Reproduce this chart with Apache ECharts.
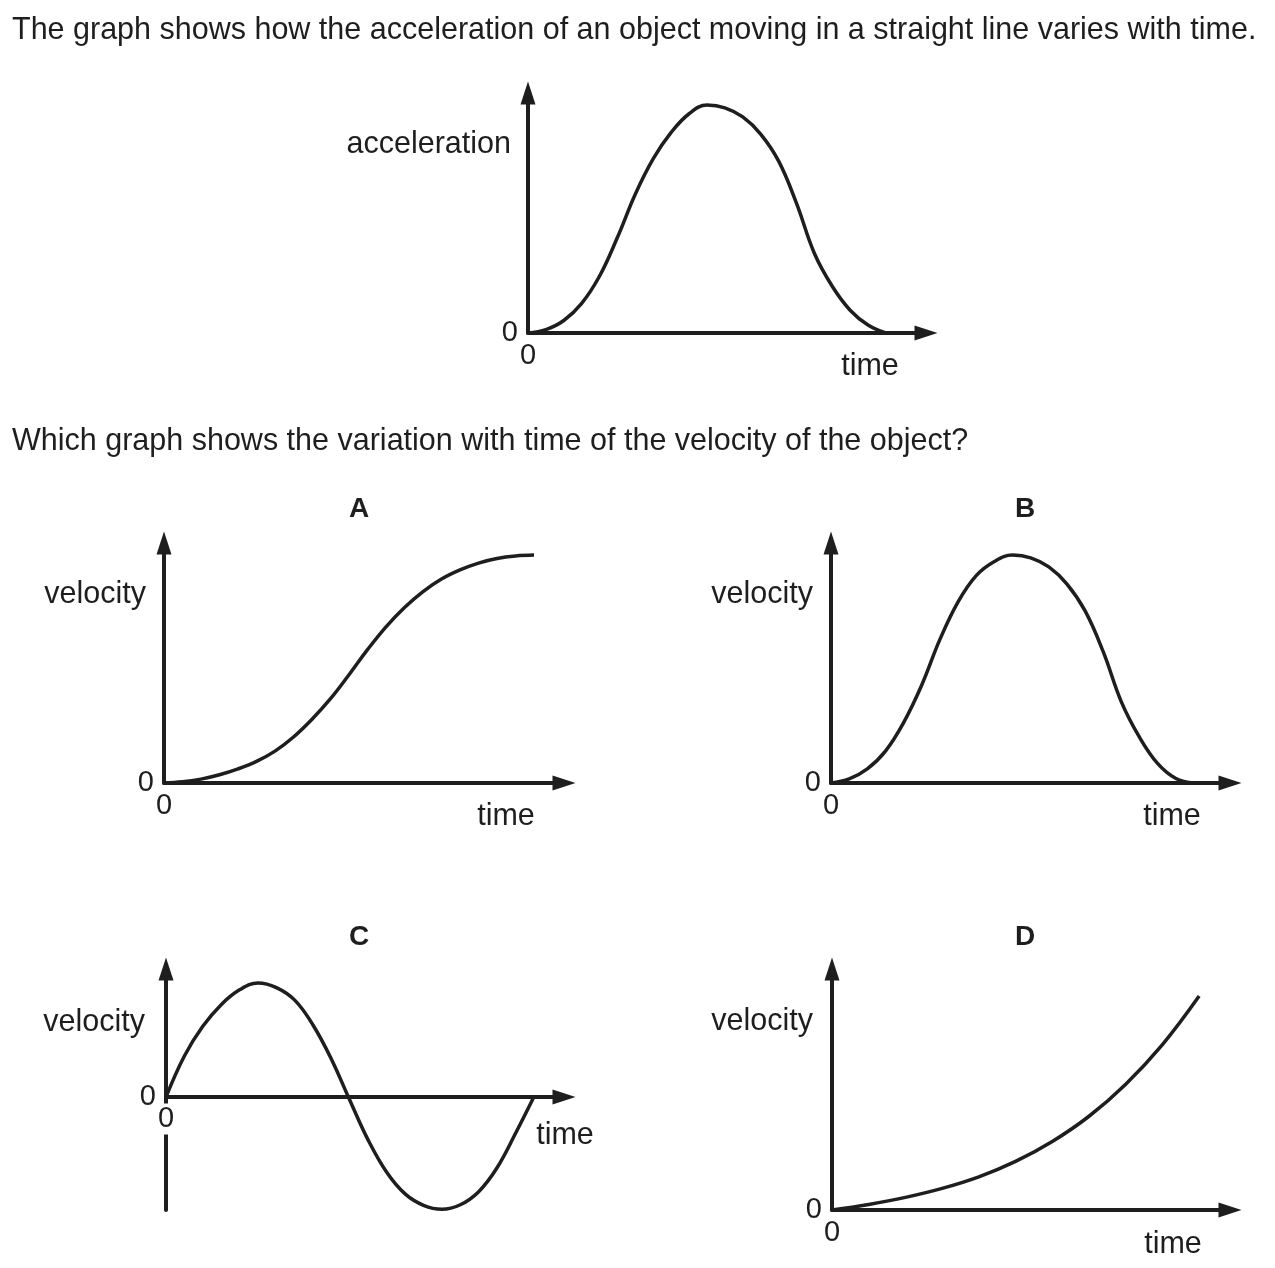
<!DOCTYPE html>
<html>
<head>
<meta charset="utf-8">
<script src="https://cdn.jsdelivr.net/npm/echarts@6/dist/echarts.min.js"></script>
<style>
html,body{margin:0;padding:0;background:#fff;}
#c{width:1275px;height:1268px;}
</style>
</head>
<body>
<div id="c"></div>
<script>
// ---- data ----
const timeFine = [0,0.5,1,1.5,2,2.5,3,3.5,4,4.5,5,5.5,6,6.5,7,7.5,8,8.5,9,9.5,10];
const timeCoarse = [0,1,2,3,4,5,6,7,8,9,10];

const acceleration = [0,0.15,0.55,1.3,2.5,4.2,6.1,7.65,8.8,9.62,10,9.88,9.48,8.73,7.55,5.7,3.5,2.05,1.0,0.35,0];
const velocityA = [0,0.05,0.17,0.36,0.62,0.95,1.4,2.02,2.8,3.7,4.75,5.85,6.85,7.7,8.4,8.95,9.35,9.65,9.85,9.96,10];
const velocityB = [0,0.18,0.62,1.4,2.65,4.3,6.3,7.95,9.1,9.72,10,9.88,9.48,8.73,7.55,5.75,3.55,2.0,0.85,0.2,0];
const velocityC = [0,3.6,6.2,8.1,9.4,10,9.6,8.5,6.3,3.3,-0.3,-3.8,-6.6,-8.5,-9.5,-9.85,-9.45,-8.3,-6.2,-3.2,0];
const velocityD = [0,0.26,0.59,1.01,1.55,2.27,3.2,4.38,5.88,7.73,10];

const question1 = 'The graph shows how the acceleration of an object moving in a straight line varies with time.';
const question2 = 'Which graph shows the variation with time of the velocity of the object?';
const optionLetters = ['A','B','C','D'];
const yNameTop = 'acceleration';
const yNameOpt = 'velocity';
const xName = 'time';
const zeroLabel = '0';

// ---- styling / layout ----
const INK = '#1e1e1e';
const FONT = '"Liberation Sans", Arial, Helvetica, sans-serif';
const TXT = 30.5;
const zip = (xs, ys) => xs.map((x, i) => [x, ys[i]]);

const panels = [
  {grid:{left:528, top:93, width:398, height:240}, xMax:11.12, yMin:0, yMax:10.53, data:zip(timeFine, acceleration), xZero:true},
  {grid:{left:164, top:543, width:400, height:240}, xMax:10.81, yMin:0, yMax:10.53, data:zip(timeFine, velocityA), xZero:true},
  {grid:{left:831, top:543, width:399, height:240}, xMax:10.99, yMin:0, yMax:10.53, data:zip(timeFine, velocityB), xZero:true},
  {grid:{left:166, top:969, width:398, height:241}, xMax:10.82, yMin:-9.91, yMax:11.23, data:zip(timeFine, velocityC), xZero:false},
  {grid:{left:832, top:969, width:398, height:241}, xMax:10.84, yMin:0, yMax:11.26, data:zip(timeCoarse, velocityD), xZero:true}
];

const axisLine = {
  show:true, onZero:true,
  symbol:['none','triangle'], symbolSize:[15,23],
  lineStyle:{color:INK, width:4}
};
const zeroOnly = v => (Math.abs(v) < 1e-9 ? zeroLabel : '');

const grids = [], xAxes = [], yAxes = [], series = [];
panels.forEach((p, i) => {
  grids.push(Object.assign({containLabel:false}, p.grid));
  xAxes.push({
    type:'value', gridIndex:i, min:0, max:p.xMax,
    axisLine:axisLine, axisTick:{show:false}, splitLine:{show:false},
    axisLabel:{show:p.xZero, formatter:zeroOnly, showMinLabel:true, showMaxLabel:false, fontSize:29, fontFamily:FONT, color:INK, margin:8}
  });
  yAxes.push({
    type:'value', gridIndex:i, min:p.yMin, max:p.yMax,
    axisLine:axisLine, axisTick:{show:false}, splitLine:{show:false},
    axisLabel:{formatter:zeroOnly, showMinLabel:true, showMaxLabel:false, fontSize:29, fontFamily:FONT, color:INK, margin:10}
  });
  series.push({
    type:'line', xAxisIndex:i, yAxisIndex:i, data:p.data,
    smooth:0.4, showSymbol:false, symbol:'none', silent:true,
    lineStyle:{color:INK, width:3.5}, z:3
  });
});

function txt(text, x, y, align, size, bold, extra){
  return {type:'text', x:x, y:y, silent:true, z:10,
    style:Object.assign({text:text, fill:INK, font:(bold?'bold ':'')+size+'px '+FONT,
      align:align, textAlign:align, verticalAlign:'middle', textVerticalAlign:'middle'}, extra || {})};
}

const graphics = [
  txt(question1, 12, 31, 'left', TXT),
  txt(question2, 12, 442, 'left', TXT),
  txt(yNameTop, 511, 145, 'right', TXT),
  txt(xName, 870, 367, 'center', TXT),
  txt(optionLetters[0], 359, 509, 'center', 28, true),
  txt(optionLetters[1], 1025, 509, 'center', 28, true),
  txt(optionLetters[2], 359, 937, 'center', 28, true),
  txt(optionLetters[3], 1025, 937, 'center', 28, true),
  txt(yNameOpt, 146, 595, 'right', TXT),
  txt(yNameOpt, 813, 595, 'right', TXT),
  txt(yNameOpt, 145, 1023, 'right', TXT),
  txt(yNameOpt, 813, 1022, 'right', TXT),
  txt(xName, 506, 817, 'center', TXT),
  txt(xName, 1172, 817, 'center', TXT),
  txt(xName, 565, 1136, 'center', TXT),
  txt(xName, 1173, 1245, 'center', TXT),
  // "0" under the origin of graph C, masking the y-axis as in the reference
  txt(zeroLabel, 166, 1119, 'center', 29, false, {backgroundColor:'#fff', padding:[1,2]})
];

const chart = echarts.init(document.getElementById('c'), null, {renderer:'canvas'});
chart.setOption({
  animation:false,
  backgroundColor:'#fff',
  grid:grids, xAxis:xAxes, yAxis:yAxes, series:series,
  graphic:graphics
});
</script>
</body>
</html>
